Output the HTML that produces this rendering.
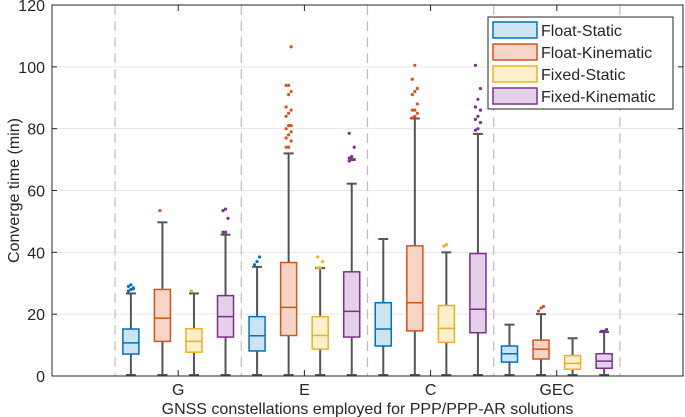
<!DOCTYPE html>
<html><head><meta charset="utf-8"><style>
body{margin:0;background:#fff;}
svg{display:block;font-family:"Liberation Sans",Arial,sans-serif;}
</style></head><body>
<svg id="chart" width="685" height="417" viewBox="0 0 685 417"></svg>
<script>
const categories=["G","E","C","GEC"];
const seriesNames=["Float-Static","Float-Kinematic","Fixed-Static","Fixed-Kinematic"];
const yTicks=[0,20,40,60,80,100,120];
// [lowWhisker,q1,median,q3,highWhisker] per category per series
const floatStatic=[[0,7.1,10.7,15.2,26.7],[0,8.1,13.0,19.2,35.3],[0,9.7,15.2,23.7,44.3],[0,4.5,7.2,9.7,16.6]];
const floatKinematic=[[0,11.2,18.7,28.0,49.7],[0,13.1,22.2,36.7,72.0],[0,14.6,23.7,42.1,83.3],[0,5.5,8.7,11.6,20.0]];
const fixedStatic=[[0,7.7,11.2,15.3,26.7],[0,8.7,13.1,19.2,34.9],[0,10.9,15.4,22.8,40.0],[0,2.2,4.1,6.6,12.2]];
const fixedKinematic=[[0,12.6,19.2,26.0,45.7],[0,12.6,20.9,33.7,62.2],[0,14.0,21.6,39.6,78.3],[0,2.5,4.8,7.2,14.2]];
const outFloatStatic=[[27.5,28,28.5,29,29.5,28.2],[36,37,38.5],[],[]];
const outFloatKinematic=[[53.5],[74,74,76,77,78,79,80,81,81,84,85,86,87,91,92,94,94,106.5],[83.5,84,85,86,86,88,91,92,93,96,100.5],[21,22,22.5]];
const outFixedStatic=[[27.5],[35,35,37,38.5],[42,42.5],[]];
const outFixedKinematic=[[46.5,46.5,51,53.5,54],[69.5,70,70,70.5,71,74,78.5],[79.5,80,82,83,84,86,87,89.5,93,100.5],[14.5,14.5,15]];

const NS="http://www.w3.org/2000/svg";
const svg=document.getElementById('chart');
const L=52,R=683,T=5,B=376;
const X=v=>L+(v/5)*(R-L);
const Y=v=>B-(v/120)*(B-T);
function el(tag,attrs,parent){const e=document.createElementNS(NS,tag);for(const k in attrs)e.setAttribute(k,attrs[k]);(parent||svg).appendChild(e);return e;}
yTicks.forEach(t=>{
  if(t>0&&t<120){const g=el('line',{x1:L,x2:R,y1:Y(t),y2:Y(t),stroke:'#e6e6e6','stroke-width':1});
  
  }
  const lb=el('text',{x:L-7,y:Y(t)+6,'text-anchor':'end','font-size':16,fill:'#262626'});lb.textContent=t;
  
  
  el('line',{x1:L,x2:L+5,y1:Y(t),y2:Y(t),stroke:'#262626'});
  el('line',{x1:R,x2:R-5,y1:Y(t),y2:Y(t),stroke:'#262626'});
});
for(let i=0;i<5;i++){const d=el('line',{x1:X(i+0.5),x2:X(i+0.5),y1:T,y2:B,stroke:'#bdbdbd','stroke-width':1.2,'stroke-dasharray':'10,6'});

}
categories.forEach((c,i)=>{
  const t=el('text',{x:X(i+1),y:B+19,'text-anchor':'middle','font-size':16,fill:'#262626'});t.textContent=c;
  
  
  el('line',{x1:X(i+1),x2:X(i+1),y1:B,y2:B-6,stroke:'#262626'});
  el('line',{x1:X(i+1),x2:X(i+1),y1:T,y2:T+6,stroke:'#262626'});
});
const stroke=['#0072BD','#D95319','#EDB120','#7E2F8E'];
const fill=['#cce3f2','#f6d4c6','#fbefcc','#e4d0e8'];
const series=[floatStatic,floatKinematic,fixedStatic,fixedKinematic];
const outs=[outFloatStatic,outFloatKinematic,outFixedStatic,outFixedKinematic];
const offs=[-0.375,-0.125,0.125,0.375],bw=0.127*(R-L)/5;
series.forEach((s,si)=>{
  s.forEach((b,ci)=>{
    const cx=X(ci+1+offs[si]);
    const g=el('g',{});
    
    
    el('line',{x1:cx,x2:cx,y1:Y(b[0]),y2:Y(b[1]),stroke:'#555','stroke-width':2},g);
    el('line',{x1:cx,x2:cx,y1:Y(b[3]),y2:Y(b[4]),stroke:'#555','stroke-width':2},g);
    el('line',{x1:cx-5,x2:cx+5,y1:Y(b[0])-1,y2:Y(b[0])-1,stroke:'#555','stroke-width':2},g);
    el('line',{x1:cx-5,x2:cx+5,y1:Y(b[4]),y2:Y(b[4]),stroke:'#555','stroke-width':2},g);
    el('rect',{x:cx-bw/2,y:Y(b[3]),width:bw,height:Y(b[1])-Y(b[3]),fill:fill[si],stroke:stroke[si],'stroke-width':1.5},g);
    el('line',{x1:cx-bw/2,x2:cx+bw/2,y1:Y(b[2]),y2:Y(b[2]),stroke:stroke[si],'stroke-width':1.5},g);
    outs[si][ci].forEach((o,k)=>{
      const p=el('circle',{cx:cx+((k%3)-1)*2.5,cy:Y(o),r:1.6,fill:stroke[si]},g);
      
      
    });
  });
});
const ax=el('rect',{x:L,y:T,width:R-L,height:B-T,fill:'none',stroke:'#262626','stroke-width':1});


const yl=el('text',{x:19,y:(T+B)/2,'text-anchor':'middle','font-size':16,fill:'#262626',transform:`rotate(-90 19 ${(T+B)/2})`});yl.textContent='Converge time (min)';


const xl=el('text',{x:(L+R)/2,y:414,'text-anchor':'middle','font-size':16,fill:'#262626'});xl.textContent='GNSS constellations employed for PPP/PPP-AR solutions';


const lg=el('g',{});


el('rect',{x:488,y:17,width:185,height:92,fill:'#fff',stroke:'#262626','stroke-width':1},lg);
seriesNames.forEach((n,i)=>{
  const y=22+i*22;
  const e=el('g',{},lg);
  
  
  el('rect',{x:493,y:y,width:44,height:16,fill:fill[i],stroke:stroke[i],'stroke-width':1.5},e);
  const t=el('text',{x:541,y:y+14,'font-size':16,fill:'#262626'},e);t.textContent=n;
});
</script>
</body></html>
